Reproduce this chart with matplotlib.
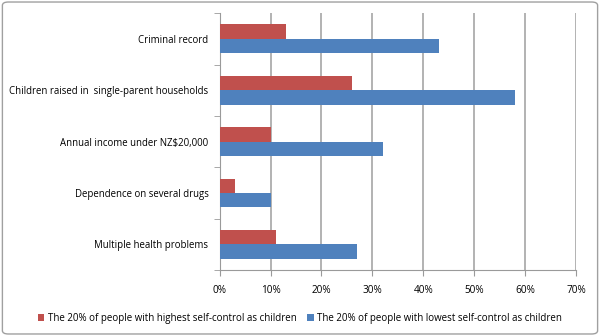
import matplotlib.pyplot as plt
from matplotlib.patches import FancyBboxPatch

categorias = ["Criminal record",
              "Children raised in  single-parent households",
              "Annual income under NZ$20,000",
              "Dependence on several drugs",
              "Multiple health problems"]
alto_autocontrole = [13, 26, 10, 3, 11]
baixo_autocontrole = [43, 58, 32, 10, 27]
rotulo_alto = "The 20% of people with highest self-control as children"
rotulo_baixo = "The 20% of people with lowest self-control as children"

plt.rcParams['font.family'] = ['Open Sans', 'DejaVu Sans']

fig = plt.figure(figsize=(6, 3.36), dpi=100)
ax = fig.add_axes([0.366, 0.196, 0.594, 0.765])

n = len(categorias)
pos = [n - 1 - i for i in range(n)]
h = 0.28
ax.barh([p + h / 2 for p in pos], alto_autocontrole, height=h, color='#C0504D',
        label=rotulo_alto, zorder=3)
ax.barh([p - h / 2 for p in pos], baixo_autocontrole, height=h, color='#4F81BD',
        label=rotulo_baixo, zorder=3)

ax.set_xlim(0, 70)
ax.set_ylim(-0.5, n - 0.5)
ax.set_xticks(range(0, 71, 10))
ax.set_xticklabels([f"{v}%" for v in range(0, 71, 10)])
ax.set_yticks(pos)
ax.set_yticklabels(categorias)
ax.set_yticks([p - 0.5 for p in range(n + 1)], minor=True)
ax.tick_params(axis='y', which='major', length=0, pad=8, labelsize=6.9, colors='#000000')
ax.tick_params(axis='y', which='minor', length=4, color='#9A9A9A')
ax.tick_params(axis='x', length=4, color='#9A9A9A', labelsize=7.2, pad=7)
ax.grid(axis='x', color='#A6A6A6', linewidth=1.2, zorder=0)

for lado in ['top', 'right']:
    ax.spines[lado].set_visible(False)
for lado in ['left', 'bottom']:
    ax.spines[lado].set_color('#9A9A9A')

leg = fig.legend(loc='lower center', bbox_to_anchor=(0.5, 0.01), ncol=2, frameon=False,
                 fontsize=7, handlelength=0.7, handleheight=0.7, handletextpad=0.4,
                 columnspacing=1.0)

borda = FancyBboxPatch((0.004, 0.006), 0.992, 0.988, boxstyle="round,pad=0,rounding_size=0.01",
                       transform=fig.transFigure, fill=False, edgecolor='#A0A0A0', linewidth=1)
fig.patches.append(borda)

fig.savefig("out.png", dpi=100)
